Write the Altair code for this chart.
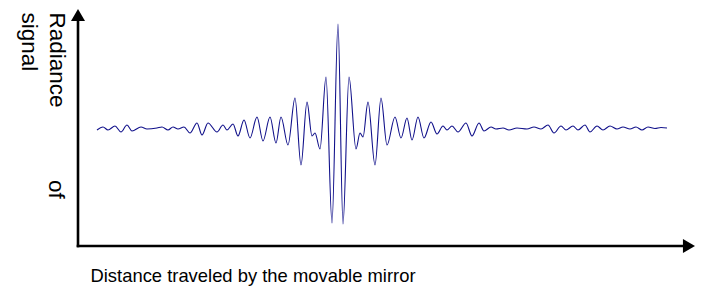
import altair as alt
import pandas as pd

# Interferogram (turning points of the trace)
distance = [19, 25, 30, 37, 43, 49, 54, 63, 69, 79,
            84, 90, 95, 100, 106, 112, 119, 124, 130, 139,
            145, 149, 155, 160, 166, 172, 179, 185, 192, 198,
            203, 210, 217, 223, 229, 234, 237, 242, 248, 254,
            260, 265, 271, 278, 282, 285, 290, 297, 303, 309,
            317, 323, 329, 334, 340, 346, 353, 359, 365, 369,
            374, 380, 388, 394, 401, 406, 413, 418, 425, 431,
            439, 449, 456, 463, 470, 476, 483, 488, 495, 500,
            507, 512, 519, 525, 532, 539, 545, 552, 558, 564,
            570, 577, 583, 589]
radiance = [116, 119, 116, 120, 114, 121, 115, 119, 117, 118,
            119, 116, 119, 117, 119, 113, 123, 111, 123, 114,
            121, 116, 122, 110, 126, 108, 129, 105, 129, 103,
            129, 101, 148, 81, 144, 110, 113, 97, 169, 23,
            222, 22, 169, 97, 113, 109, 144, 81, 148, 101,
            129, 108, 128, 106, 129, 108, 124, 112, 120, 116,
            120, 114, 123, 110, 123, 115, 119, 117, 118, 116,
            118, 117, 119, 117, 121, 113, 120, 116, 120, 116,
            121, 114, 120, 116, 120, 117, 119, 117, 119, 116,
            119, 117.5, 118.5, 118]

x_title = "Distance traveled by the movable mirror"
y_title = ["Radiance", "signal"]
y_extra = ["of"]
x_domain = [0, 614]
y_domain = [0, 231]

W, H = 614, 231
FONT = "Liberation Sans, Arial, sans-serif"

df = pd.DataFrame({"d": distance, "r": radiance})
one = pd.DataFrame({"t": y_extra})

line = alt.Chart(df).mark_line(
    color="#10108a", strokeWidth=1.1, interpolate="monotone"
).encode(
    x=alt.X("d:Q", scale=alt.Scale(domain=x_domain, nice=False, zero=False),
            axis=alt.Axis(title=x_title, domain=False, ticks=False, labels=False,
                          grid=False, titleX=12, titleY=35, titleAlign="left",
                          titleAnchor="start", titleBaseline="alphabetic",
                          titleFont=FONT, titleFontSize=18.4, titleFontWeight="normal",
                          titleColor="black")),
    y=alt.Y("r:Q", scale=alt.Scale(domain=y_domain, nice=False, zero=False),
            axis=alt.Axis(title=y_title, domain=False, ticks=False, labels=False,
                          grid=False, titleAngle=90, titleX=-29, titleY=-3,
                          titleAlign="left", titleAnchor="start",
                          titleBaseline="alphabetic", titleLineHeight=28,
                          titleFont=FONT, titleFontSize=22.5, titleFontWeight="normal",
                          titleColor="black")),
)

vaxis = alt.Chart(one).mark_rule(color="black", strokeWidth=2.6, strokeCap="square").encode(
    x=alt.value(0), y=alt.value(2), y2=alt.value(H)
)
haxis = alt.Chart(one).mark_rule(color="black", strokeWidth=2.6, strokeCap="square").encode(
    y=alt.value(H), x=alt.value(0), x2=alt.value(W - 5)
)
up = alt.Chart(one).mark_point(shape="triangle-up", filled=True, color="black",
                               size=196, opacity=1).encode(
    x=alt.value(0), y=alt.value(0)
)
right = alt.Chart(one).mark_point(shape="triangle-right", filled=True, color="black",
                                  size=196, opacity=1).encode(
    x=alt.value(W - 3), y=alt.value(H)
)
of_text = alt.Chart(one).mark_text(
    angle=90, align="left", baseline="alphabetic", font=FONT, fontSize=22.5, color="black"
).encode(x=alt.value(-29), y=alt.value(165), text="t:N")

chart = alt.layer(line, vaxis, haxis, up, right, of_text).properties(
    width=W, height=H,
    autosize=alt.AutoSizeParams(type="none"),
    padding={"left": 70, "top": 7, "right": 3, "bottom": 40},
).configure_view(stroke=None)

chart.save("out.html", embed_options={"renderer": "svg", "actions": False})
